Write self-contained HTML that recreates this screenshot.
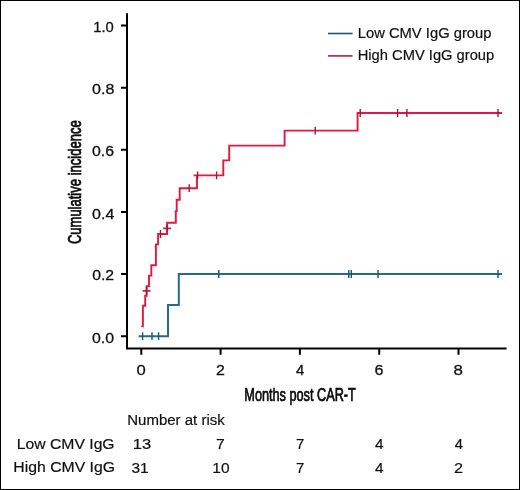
<!DOCTYPE html>
<html>
<head>
<meta charset="utf-8">
<style>
html,body{margin:0;padding:0;background:#fff;}
body{width:520px;height:490px;overflow:hidden;}
svg{display:block;will-change:transform;}
text{font-family:"Liberation Sans",sans-serif;fill:#111;stroke:#111;stroke-width:0.2px;}
</style>
</head>
<body>
<svg width="520" height="490" viewBox="0 0 520 490">
<rect x="0" y="0" width="520" height="490" fill="#fff"/>
<rect x="0.5" y="0.5" width="519" height="489" fill="none" stroke="#000" stroke-width="1"/>
<g stroke="#000" stroke-width="2" fill="none"><path d="M127,13.3 V349.5 M126,348.5 H506.6"/><path d="M121,25.6 H126 M121,87.7 H126 M121,149.8 H126 M121,212.0 H126 M121,274.1 H126 M121,336.2 H126"/><path d="M141.3,349 V354.8 M220.6,349 V354.8 M299.9,349 V354.8 M379.2,349 V354.8 M458.5,349 V354.8"/></g>
<text x="93.24" y="31.8" font-size="15.3" textLength="20.52" lengthAdjust="spacingAndGlyphs" style="stroke-width:0.3">1.0</text>
<text x="92.06" y="94.1" font-size="15.3" textLength="22.22" lengthAdjust="spacingAndGlyphs" style="stroke-width:0.3">0.8</text>
<text x="92.06" y="156.4" font-size="15.3" textLength="22.01" lengthAdjust="spacingAndGlyphs" style="stroke-width:0.3">0.6</text>
<text x="92.06" y="218.5" font-size="15.3" textLength="22.22" lengthAdjust="spacingAndGlyphs" style="stroke-width:0.3">0.4</text>
<text x="92.17" y="280.4" font-size="15.3" textLength="21.90" lengthAdjust="spacingAndGlyphs" style="stroke-width:0.3">0.2</text>
<text x="92.06" y="342.7" font-size="15.3" textLength="22.01" lengthAdjust="spacingAndGlyphs" style="stroke-width:0.3">0.0</text>
<text x="136.41" y="374.8" font-size="15.3" textLength="9.25" lengthAdjust="spacingAndGlyphs" style="stroke-width:0.3">0</text>
<text x="215.96" y="374.8" font-size="15.3" textLength="8.88" lengthAdjust="spacingAndGlyphs" style="stroke-width:0.3">2</text>
<text x="296.00" y="374.8" font-size="15.3" textLength="8.30" lengthAdjust="spacingAndGlyphs" style="stroke-width:0.3">4</text>
<text x="374.64" y="374.8" font-size="15.3" textLength="9.00" lengthAdjust="spacingAndGlyphs" style="stroke-width:0.3">6</text>
<text x="453.50" y="374.8" font-size="15.3" textLength="9.37" lengthAdjust="spacingAndGlyphs" style="stroke-width:0.3">8</text>
<text x="244.31" y="400.7" font-size="18.3" textLength="111.55" lengthAdjust="spacingAndGlyphs" style="stroke:#000;stroke-width:0.7">Months post CAR-T</text>
<text transform="translate(81.4,244.11) rotate(-90)" x="0" y="0" font-size="18.3" textLength="123.76" lengthAdjust="spacingAndGlyphs" style="stroke:#000;stroke-width:0.7">Cumulative incidence</text>
<path d="M328,33.5 H352.6" stroke="#1c5378" stroke-width="1.6"/>
<path d="M328,55.9 H352.6" stroke="#b83a5a" stroke-width="1.8"/>
<text x="357.72" y="38.0" font-size="15.0" textLength="133.78" lengthAdjust="spacingAndGlyphs">Low CMV IgG group</text>
<text x="357.72" y="60.2" font-size="15.0" textLength="136.51" lengthAdjust="spacingAndGlyphs">High CMV IgG group</text>
<path fill="none" stroke="#256a90" stroke-width="2" d="M138.6,336.2 H168 V305 H178.8 V274 H502"/>
<path fill="none" stroke="#1b5676" stroke-width="1.4" d="M142.6,332.3 v7.8 M152,332.3 v7.8 M158.6,332.3 v7.8 M218.8,270.1 v7.8 M348.8,270.1 v7.8 M351.3,270.1 v7.8 M378,270.1 v7.8 M498,270.1 v7.8"/>
<path fill="none" stroke="#e4173f" stroke-width="1.9" d="M141.3,326.4 H142.9 V305.7 H145.2 V295.7 H146.6 V286.1 H149 V275.6 H151.3 V265.2 H155.9 V244.4 H158.1 V234 H167.1 V222.8 H175.8 V211.1 H176.7 V199.7 H179.7 V188.2 H197 V175.4 H223.3 V160.4 H229.2 V145.6 H284.6 V130.6 H357.6 V113 H502"/>
<path fill="none" stroke="#e4173f" stroke-width="1.8" d="M142.6,290.9 h8 M163.1,228.3 h8 M193.6,175.4 H196.2"/>
<path fill="none" stroke="#a3153b" stroke-width="1.4" d="M146.6,287.0 v7.8 M160.5,230.1 v7.8 M167.1,224.4 v7.8 M189.2,184.3 v7.8 M197.6,171.5 v7.8 M216.6,171.5 v7.8 M315.2,126.7 v7.8 M360.2,109.1 v7.8 M397.6,109.1 v7.8 M406.9,109.1 v7.8 M498,109.1 v7.8"/>
<text x="127.21" y="424.8" font-size="15.2" textLength="97.54" lengthAdjust="spacingAndGlyphs">Number at risk</text>
<text x="16.78" y="448.7" font-size="15.4" textLength="97.84" lengthAdjust="spacingAndGlyphs">Low CMV IgG</text>
<text x="13.38" y="472.2" font-size="15.4" textLength="101.67" lengthAdjust="spacingAndGlyphs">High CMV IgG</text>
<text x="132.72" y="448.8" font-size="15.3" textLength="18.38" lengthAdjust="spacingAndGlyphs">13</text>
<text x="215.97" y="448.8" font-size="15.3" textLength="8.76" lengthAdjust="spacingAndGlyphs">7</text>
<text x="296.01" y="448.8" font-size="15.3" textLength="8.39" lengthAdjust="spacingAndGlyphs">7</text>
<text x="375.10" y="448.8" font-size="15.3" textLength="8.62" lengthAdjust="spacingAndGlyphs">4</text>
<text x="454.70" y="448.8" font-size="15.3" textLength="8.20" lengthAdjust="spacingAndGlyphs">4</text>
<text x="131.49" y="472.6" font-size="15.3" textLength="17.13" lengthAdjust="spacingAndGlyphs">31</text>
<text x="212.39" y="472.6" font-size="15.3" textLength="17.23" lengthAdjust="spacingAndGlyphs">10</text>
<text x="296.01" y="472.6" font-size="15.3" textLength="8.39" lengthAdjust="spacingAndGlyphs">7</text>
<text x="375.10" y="472.6" font-size="15.3" textLength="8.62" lengthAdjust="spacingAndGlyphs">4</text>
<text x="453.94" y="472.6" font-size="15.3" textLength="9.00" lengthAdjust="spacingAndGlyphs">2</text>
</svg>
</body>
</html>
